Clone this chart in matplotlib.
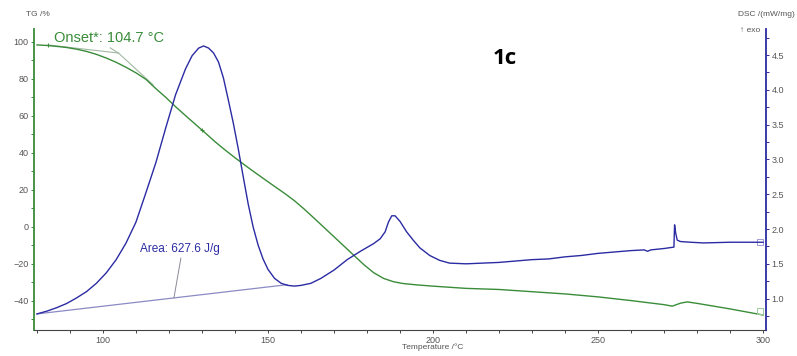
import numpy as np
import matplotlib.pyplot as plt
from matplotlib.ticker import MultipleLocator

# === Data ===
tg_temp = [80, 83, 86, 89, 92, 95, 98, 101, 104, 107, 110, 113, 116, 119, 122,
           125, 128, 131, 134, 137, 140, 143, 146, 149, 152, 155, 158, 161,
           164, 167, 170, 173, 176, 179, 182, 185, 188, 191, 195, 200, 210,
           220, 230, 240, 250, 260, 270, 272.5, 275, 277, 280, 290, 300]
tg_vals = [98.4, 98.1, 97.6, 97.0, 96.1, 94.9, 93.3, 91.3, 89.0, 86.3, 83.3,
           79.8, 74.8, 70.1, 65.0, 60.2, 55.5, 50.8, 46.0, 41.6, 37.4, 33.4,
           29.5, 25.7, 21.9, 18.2, 14.2, 9.6, 4.7, -0.3, -5.3, -10.3, -15.3,
           -20.3, -24.7, -27.8, -29.6, -30.6, -31.3, -32.0, -33.2, -33.8,
           -35.0, -36.2, -37.8, -39.8, -42.0, -42.8, -41.2, -40.5, -41.3,
           -44.3, -47.6]

dsc_temp = [80, 83, 86, 89, 92, 95, 98, 101, 104, 107, 110, 113, 116, 119,
            122, 125, 127, 129, 130.5, 132, 133.5, 135, 136.5, 138, 139.5,
            141, 142.5, 144, 145.5, 147, 148.5, 150, 152, 154, 156, 158, 160,
            163, 166, 170, 174, 178, 182, 184, 185.5, 186.5, 187.5, 188.5,
            190, 192, 194, 196, 199, 202, 205, 210, 215, 220, 225, 230, 235,
            240, 245, 250, 255, 260, 264, 265, 266, 270, 273, 273.2, 273.5,
            274, 275, 278, 282, 290, 300]
dsc_vals = [0.78, 0.82, 0.87, 0.93, 1.01, 1.10, 1.22, 1.37, 1.56, 1.80, 2.10,
            2.52, 2.95, 3.45, 3.93, 4.30, 4.49, 4.60, 4.63, 4.60, 4.53, 4.40,
            4.17, 3.85, 3.52, 3.15, 2.75, 2.36, 2.03, 1.77, 1.57, 1.42, 1.29,
            1.22, 1.19, 1.18, 1.19, 1.22, 1.29, 1.41, 1.56, 1.68, 1.79, 1.86,
            1.96, 2.10, 2.19, 2.19, 2.11, 1.96, 1.84, 1.73, 1.62, 1.55, 1.51,
            1.50, 1.51, 1.52, 1.54, 1.56, 1.57, 1.60, 1.62, 1.65, 1.67, 1.69,
            1.70, 1.68, 1.70, 1.72, 1.74, 2.06, 1.95, 1.84, 1.82, 1.81, 1.80,
            1.81, 1.81]

# onset tangents (TG) and area baseline (DSC)
onset_t = 104.7
tan1_t, tan1_v = [83.3, 104.7], [98.4, 94.0]
tan2_t, tan2_v = [104.7, 115.2], [94.0, 76.8]
base_t, base_v = [80, 155.8], [0.78, 1.20]

green = '#3a8c3a'
blue = '#2b2ba3'
grey = '#555555'

plt.rcParams['font.family'] = ['Liberation Sans', 'DejaVu Sans']

fig = plt.figure(figsize=(7.97, 3.56), dpi=100)
ax = fig.add_axes([34/797, 26/356, 732/797, 301/356])
ax2 = ax.twinx()

# === TG curve ===
ax.plot(tg_temp, tg_vals, color=green, lw=1.0, zorder=3)
ax.plot(tan1_t, tan1_v, color='#a3b8a3', lw=0.8)
ax.plot(tan2_t, tan2_v, color='#a3b8a3', lw=0.8)
ax.plot([102.2, onset_t], [96.8, 94.0], color='#a3b8a3', lw=0.8)
ax.plot([83.3, 130], [98.4, 52.5], ls='none', marker='+', ms=3, color=green, mew=0.7)
ax.text(85.2, 102.3, "Onset*: 104.7 °C", color=green, fontsize=10.5,
        ha='left', va='center')

# === DSC curve ===
ax2.plot(dsc_temp, dsc_vals, color=blue, lw=1.0, zorder=3)
ax2.plot(base_t, base_v, color='#8a8ac4', lw=0.9)
ax2.plot([123.6, 121.5], [1.58, 1.01], color='#8a8a9a', lw=0.7)
ax2.text(123.3, 1.71, "Area: 627.6 J/g", color=blue, fontsize=8.5,
         ha='center', va='center')
ax2.plot([299], [1.81], marker='s', ms=4, mfc='none', mec='#9a9ad8', mew=0.7)
ax2.plot([299], [0.82], marker='s', ms=4, mfc='none', mec='#9ac89a', mew=0.7)

# === Axes ===
ax.set_xlim(79.1, 300.9)
ax.set_ylim(-55.7, 107.0)
ax2.set_ylim(0.549, 4.874)

ax.xaxis.set_major_locator(MultipleLocator(50))
ax.xaxis.set_minor_locator(MultipleLocator(10))
ax.yaxis.set_minor_locator(MultipleLocator(10))
ax2.yaxis.set_minor_locator(MultipleLocator(0.25))
ax.set_yticks(np.arange(-40, 101, 20))
ax2.set_yticks(np.arange(1.0, 4.51, 0.5))

for a in (ax, ax2):
    a.spines['top'].set_visible(False)
ax.spines['left'].set_color(green)
ax.spines['left'].set_linewidth(1.3)
ax2.spines['right'].set_color(blue)
ax2.spines['right'].set_linewidth(1.3)
ax2.spines['left'].set_visible(False)
ax.spines['right'].set_visible(False)
ax.spines['bottom'].set_color('#444444')
ax2.spines['bottom'].set_visible(False)

ax.tick_params(axis='x', which='both', direction='out', length=2, width=0.7,
               colors='#444444', labelsize=6.5, labelcolor=grey, pad=2)
ax.tick_params(axis='y', which='both', direction='out', length=2, width=0.7,
               colors=green, labelsize=6.5, labelcolor=grey, pad=2)
ax2.tick_params(axis='y', which='both', direction='out', length=2, width=0.7,
                colors=blue, labelsize=6.5, labelcolor=grey, pad=2)

fig.text(0.048, 0.958, "TG /%", fontsize=6, color=grey, ha='center', va='center')
fig.text(0.962, 0.958, "DSC /(mW/mg)", fontsize=6, color=grey, ha='center', va='center')
fig.text(0.941, 0.914, "↑ exo", fontsize=6, color=grey, ha='center', va='center')
fig.text(0.543, 0.025, "Temperature /°C", fontsize=6, color=grey, ha='center', va='center')
fig.text(0.634, 0.837, "1c", fontsize=16, fontweight='bold', color='black',
         ha='center', va='center', family=['Open Sans', 'DejaVu Sans'])

fig.savefig('out.png', dpi=100)
